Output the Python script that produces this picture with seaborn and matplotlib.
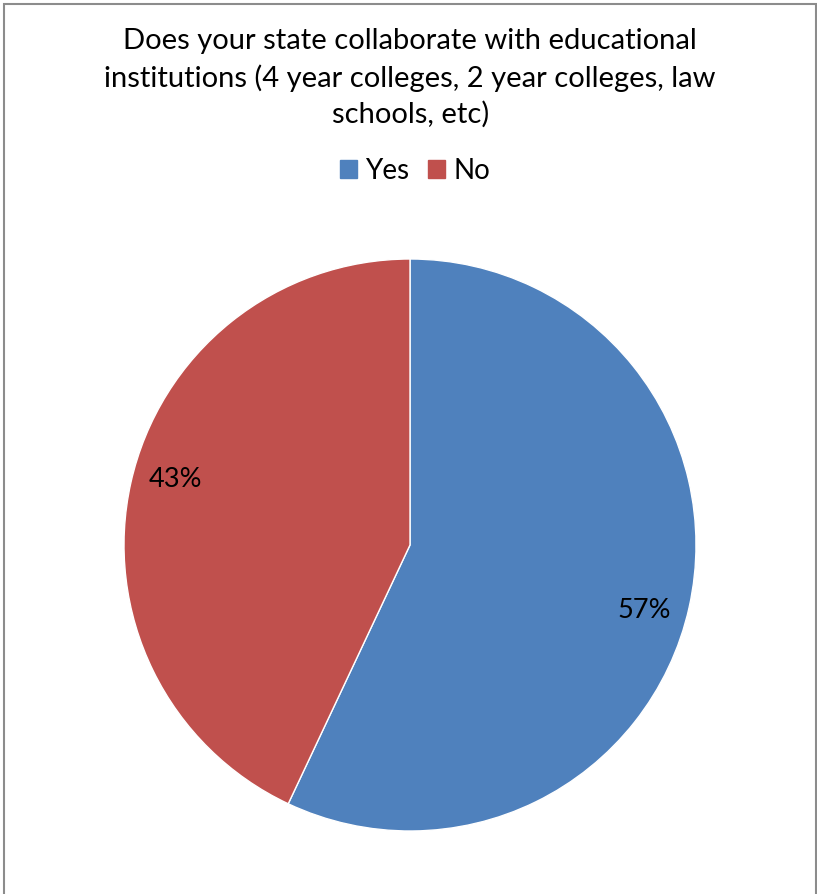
import numpy as np
import matplotlib
matplotlib.use("Agg")
import matplotlib.pyplot as plt
import matplotlib.patches as mpatches
import seaborn as sns

title = "Does your state collaborate with educational\ninstitutions (4 year colleges, 2 year colleges, law\nschools, etc)"
labels = ["Yes", "No"]
values = [57, 43]
colors = ["#4F81BD", "#C0504D"]

sns.set_style("white")
plt.rcParams['font.family'] = ['Lato', 'DejaVu Sans']
plt.rcParams['text.color'] = 'black'

fig = plt.figure(figsize=(8.17, 8.94), dpi=100)
ax = fig.add_axes([124 / 817, 63 / 894, 572 / 817, 572 / 894])

pal = sns.color_palette(colors)
wedges, texts, autotexts = ax.pie(values, colors=pal, startangle=90, counterclock=False,
                                  autopct='%d%%', pctdistance=0.85,
                                  wedgeprops=dict(edgecolor='white', linewidth=1))
# nudge labels slightly clockwise like the original
rot = np.deg2rad(-3)
for t in autotexts:
    t.set_fontsize(19.5)
    t.set_color('black')
    x, y = t.get_position()
    t.set_position((x * np.cos(rot) - y * np.sin(rot), x * np.sin(rot) + y * np.cos(rot)))
ax.set_xlim(-1, 1)
ax.set_ylim(-1, 1)
ax.set_aspect('equal')

fig.text(0.502, 1 - 78 / 894, title, ha='center', va='center', fontsize=21,
         linespacing=1.42, color='black')

handles = [mpatches.Patch(color=c, label=l) for c, l in zip(pal, labels)]
fig.legend(handles=handles, loc='center', bbox_to_anchor=(415 / 817, 1 - 171 / 894),
           ncol=2, frameon=False, fontsize=20, handlelength=0.6, handleheight=0.6,
           handletextpad=0.3, columnspacing=0.7)

border = mpatches.Rectangle((4 / 817, -0.01), 812 / 817, 1 - 4 / 894 + 0.01,
                            transform=fig.transFigure, fill=False,
                            edgecolor='#8c8c8c', linewidth=1.5)
fig.patches.append(border)

fig.savefig("out.png", dpi=100)
